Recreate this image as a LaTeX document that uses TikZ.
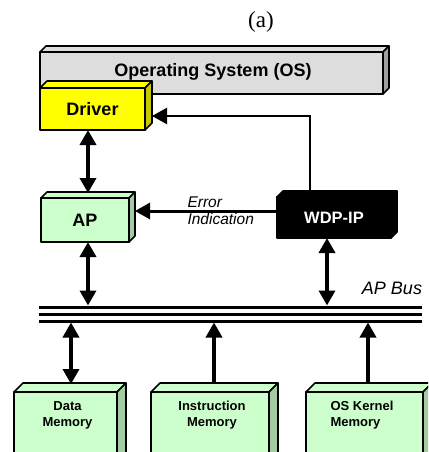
\documentclass[tikz,border=0pt]{standalone}
\usepackage{fontspec}
\setmainfont{Liberation Sans}
\newfontfamily\serifa{Liberation Serif}
\usetikzlibrary{arrows.meta,calc}
\definecolor{osgray}{HTML}{DDDDDD}
\definecolor{osside}{HTML}{A0A0A0}
\definecolor{drvyel}{HTML}{FFFF00}
\definecolor{drvside}{HTML}{C8C800}
\definecolor{apgreen}{HTML}{CCFFCC}
\definecolor{apside}{HTML}{A3CCA3}
\newcommand\boxfaces[4]{%
  \draw[facestyle, fill=#3] (#1.north west) -- ++(#2,-#2) -- ($(#1.north east)+(#2,-#2)$) -- (#1.north east) -- cycle;
  \draw[facestyle, fill=#4] (#1.north east) -- ++(#2,-#2) -- ($(#1.south east)+(#2,-#2)$) -- (#1.south east) -- cycle;}
\tikzset{
  facestyle/.style={draw=black, line width=1.6pt, line join=round},
  cube/.style={draw=black, line width=1.6pt, outer sep=0pt, inner sep=0pt, line join=round},
  bigbold/.style={font=\fontsize{18}{20}\selectfont\bfseries},
  membold/.style={font=\fontsize{13}{16}\selectfont\bfseries},
  tip/.tip={Triangle[length=15pt,width=16pt]},
  dbl/.style={line width=3.5pt, {tip}-{tip}},
  sgl/.style={line width=3.5pt, -{tip}},
  thinarr/.style={line width=2.2pt, -{tip}},
  bus/.style={line width=3pt},
}
\begin{document}
\begin{tikzpicture}[x=1pt,y=-1pt]
\useasboundingbox (0,0) rectangle (428,452);
\clip (0,0) rectangle (428,452);
% title
\node[font=\serifa\fontsize{23}{26}\selectfont] (title) at (261,22) {(a)};
% OS bar
\node[cube, fill=osgray, minimum width=343pt, minimum height=42pt] (os) at (211.5,73) {};
\boxfaces{os}{6}{osgray}{osside}
\node[bigbold] (ostext) at (213,72) {Operating System (OS)};
% Driver
\node[cube, fill=drvyel, minimum width=105pt, minimum height=42pt, bigbold] (drv) at (92.5,109) {Driver};
\boxfaces{drv}{7}{drvyel}{drvside}
% AP
\node[cube, fill=apgreen, minimum width=88pt, minimum height=44pt, bigbold] (ap) at (85,220) {AP};
\boxfaces{ap}{6}{apgreen}{apside}
% WDP-IP
\node[cube, fill=black, minimum width=114pt, minimum height=41pt, font=\fontsize{16.5}{18}\selectfont\bfseries, text=white] (wdp) at (334,217.5) {WDP-IP};
\boxfaces{wdp}{6}{black}{black}
% memories
\node[cube, fill=apgreen, minimum width=103pt, minimum height=100pt, anchor=north west] (dm) at (14,392) {};
\boxfaces{dm}{9}{apgreen}{apside}
\node[cube, fill=apgreen, minimum width=118pt, minimum height=100pt, anchor=north west] (im) at (151,392) {};
\boxfaces{im}{9}{apgreen}{apside}
\node[cube, fill=apgreen, minimum width=117pt, minimum height=100pt, anchor=north west] (km) at (306,392) {};
\boxfaces{km}{9}{apgreen}{apside}
\node[membold, align=center] (dmt) at (67.5,415) {Data\\Memory};
\node[membold, align=center] (imt) at (212,415) {Instruction\\Memory};
\node[membold, align=left, anchor=west] (kmt) at (327,415) {OS Kernel\\Memory};
% bus
\coordinate (busl) at (39,314);
\coordinate (busr) at (422,314);
\draw[bus] ($(busl)+(0,-7)$) -- ($(busr)+(0,-7)$);
\draw[bus] (busl) -- (busr);
\draw[bus] ($(busl)+(0,7)$) -- ($(busr)+(0,7)$);
\coordinate (bustop) at (0,305.5);
\coordinate (busbot) at (0,322.5);
\node[font=\fontsize{18}{20}\selectfont\itshape] (buslabel) at (392,288) {AP Bus};
% columns
\coordinate (colA) at (88,0);
\coordinate (colW) at (327,0);
\coordinate (colD) at (71,0);
\coordinate (colI) at (214,0);
\coordinate (colK) at (368,0);
% connectors
\draw[dbl] (drv.south -| colA) -- ($(ap.north -| colA)+(0,-5)$);
\draw[dbl] (ap.south -| colA) -- (bustop -| colA);
\draw[dbl] (wdp.south -| colW) -- (bustop -| colW);
\draw[dbl] (busbot -| colD) -- ($(dm.north -| colD)+(0,-8)$);
\draw[sgl] ($(im.north -| colI)+(0,-9)$) -- (busbot -| colI);
\draw[sgl] ($(km.north -| colK)+(0,-9)$) -- (busbot -| colK);
% error indication
\coordinate (erry) at (0,211);
\draw[line width=3pt, -{tip}] (wdp.west |- erry) -- ($(ap.east |- erry)+(6,0)$);
\node[font=\fontsize{15.5}{17}\selectfont\itshape, align=left, anchor=west] (errlabel) at (184,211) {Error\\Indication};
% feedback to driver
\coordinate (fbk) at (310,116);
\draw[thinarr] ($(wdp.north -| fbk)+(0,-6)$) -- (fbk) -- ($(drv.east |- fbk)+(7,0)$);
\end{tikzpicture}
\end{document}
